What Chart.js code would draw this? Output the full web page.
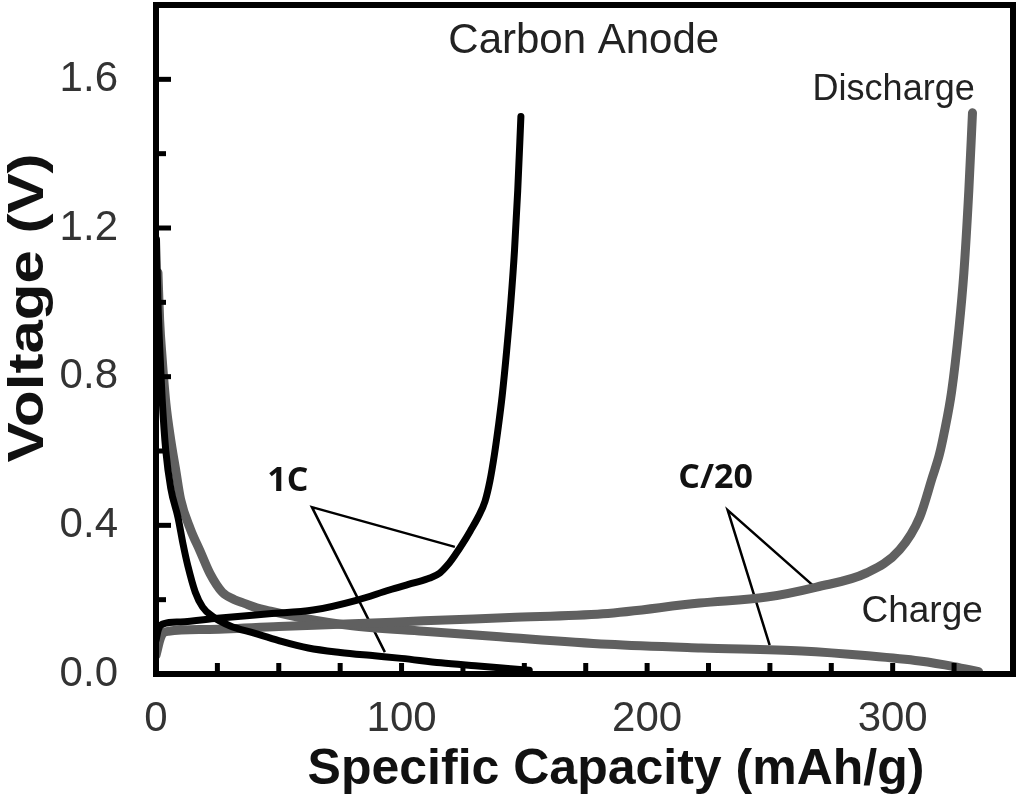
<!DOCTYPE html>
<html>
<head>
<meta charset="utf-8">
<title>Carbon Anode</title>
<script src="https://cdn.jsdelivr.net/npm/chart.js@4.4.1/dist/chart.umd.min.js"></script>
<style>
  html, body { margin: 0; padding: 0; background: #fff; }
  #wrap { width: 1017px; height: 800px; }
</style>
</head>
<body>
<div id="wrap"><canvas id="chart" width="1017" height="800"></canvas></div>
<script>
'use strict'

// 1C rate, black curves (capacity mAh/g, voltage V)
const CAP_1C_CHARGE = [0.2, 0.8, 1.5, 2.5, 4, 6, 9, 11, 13, 16, 19, 23, 30, 40, 50, 62, 75, 89, 100, 116, 130, 141, 152];
const V_1C_CHARGE = [1.17, 1.0, 0.88, 0.74, 0.6, 0.5, 0.42, 0.35, 0.29, 0.22, 0.18, 0.155, 0.13, 0.11, 0.09, 0.07, 0.058, 0.049, 0.042, 0.03, 0.022, 0.016, 0.01];
const CAP_1C_DISCHARGE = [0, 1, 3, 10, 25, 46, 64, 82, 95, 105, 111.5, 115.6, 119, 122, 125, 128, 131, 134, 136, 137.8, 139.5, 141, 142.8, 144.5, 146, 147.3, 148.6];
const V_1C_DISCHARGE = [0.09, 0.12, 0.135, 0.14, 0.15, 0.162, 0.172, 0.199, 0.226, 0.245, 0.258, 0.272, 0.295, 0.322, 0.352, 0.385, 0.42, 0.465, 0.52, 0.59, 0.67, 0.75, 0.87, 1.0, 1.14, 1.3, 1.5];

// C/20 rate, grey curves
const CAP_C20_CHARGE = [0.8, 1.5, 2.5, 4, 6, 8, 10, 14, 18, 22, 27, 32, 36, 41, 46, 60, 80, 109, 140, 184, 222, 263, 290, 311, 325, 335];
const V_C20_CHARGE = [1.08, 0.95, 0.85, 0.73, 0.63, 0.55, 0.47, 0.39, 0.33, 0.27, 0.22, 0.2, 0.19, 0.178, 0.17, 0.15, 0.13, 0.115, 0.1, 0.08, 0.07, 0.062, 0.049, 0.035, 0.02, 0.006];
const CAP_C20_DISCHARGE = [0, 2, 5, 20, 50, 80, 109, 144, 182, 221.4, 248.7, 269, 289.4, 302.8, 311, 316.2, 319, 321, 324, 327, 329, 331, 332.5];
const V_C20_DISCHARGE = [0.05, 0.1, 0.115, 0.12, 0.128, 0.135, 0.143, 0.152, 0.162, 0.191, 0.207, 0.234, 0.272, 0.334, 0.422, 0.53, 0.59, 0.65, 0.76, 0.93, 1.08, 1.3, 1.51];

// leader lines from the rate labels (end, apex, end)
const CAP_1C_LEADER = [121.7, 63.5, 93.2];
const V_1C_LEADER = [0.342, 0.449, 0.059];
const CAP_C20_LEADER = [267.4, 232.8, 249.9];
const V_C20_LEADER = [0.239, 0.441, 0.078];

// axes
const X_MIN = 0, X_MAX = 349, X_STEP = 100, X_MINOR = 25;
const Y_MIN = 0, Y_MAX = 1.8, Y_STEP = 0.4, Y_MINOR = 0.2;

// text labels placed in data coordinates
const LABELS = [
  {text: 'Carbon Anode', x: 174.2, y: 1.703, font: '42px "Liberation Sans", Arial, sans-serif', color: '#222'},
  {text: 'Discharge', x: 300.4, y: 1.571, font: '36px "Liberation Sans", Arial, sans-serif', color: '#222'},
  {text: 'Charge', x: 312, y: 0.167, font: '37px "Liberation Sans", Arial, sans-serif', color: '#222'},
  {text: '1C', x: 53.7, y: 0.519, font: 'bold 34px "Open Sans", sans-serif', color: '#111'},
  {text: 'C/20', x: 227.9, y: 0.527, font: 'bold 34px "Open Sans", sans-serif', color: '#111'}
];

const BLACK = '#000000';
const GREY = '#606060';

function toPoints(xs, ys) {
  return xs.map((x, i) => ({x: x, y: ys[i]}));
}

function curve(label, xs, ys, color, width) {
  return {
    label: label,
    data: toPoints(xs, ys),
    showLine: true,
    borderColor: color,
    backgroundColor: color,
    borderWidth: width,
    pointRadius: 0,
    cubicInterpolationMode: 'monotone',
    borderCapStyle: 'round',
    borderJoinStyle: 'round'
  };
}

function leader(label, xs, ys) {
  return {
    label: label,
    data: toPoints(xs, ys),
    showLine: true,
    borderColor: BLACK,
    borderWidth: 2.5,
    pointRadius: 0,
    tension: 0
  };
}

// frame, inward ticks, axis titles and text labels
const decorations = {
  id: 'decorations',
  afterDatasetsDraw(chart) {
    const {ctx, chartArea: a, scales} = chart;
    const xs = scales.x, ys = scales.y;
    ctx.save();
    ctx.strokeStyle = '#000';
    ctx.lineCap = 'butt';

    ctx.lineWidth = 5;
    for (let v = X_MIN + X_MINOR; v < X_MAX; v += X_MINOR) {
      const px = xs.getPixelForValue(v);
      ctx.beginPath();
      ctx.moveTo(px, a.bottom);
      ctx.lineTo(px, a.bottom - 11);
      ctx.stroke();
    }
    for (let v = Y_MIN + Y_MINOR; v < Y_MAX - 0.01; v += Y_MINOR) {
      const py = ys.getPixelForValue(v);
      const major = Math.abs(v / Y_STEP - Math.round(v / Y_STEP)) < 0.01;
      ctx.beginPath();
      ctx.moveTo(a.left, py);
      ctx.lineTo(a.left + (major ? 15 : 10), py);
      ctx.stroke();
    }

    ctx.lineWidth = 6;
    ctx.strokeRect(a.left, a.top, a.right - a.left, a.bottom - a.top);

    ctx.textAlign = 'center';
    ctx.textBaseline = 'middle';
    LABELS.forEach(l => {
      ctx.font = l.font;
      ctx.fillStyle = l.color;
      ctx.fillText(l.text, xs.getPixelForValue(l.x), ys.getPixelForValue(l.y));
    });

    ctx.fillStyle = '#111';
    ctx.font = 'bold 50px "Liberation Sans", Arial, sans-serif';
    ctx.fillText('Specific Capacity (mAh/g)', 616, 770);
    ctx.translate(29, 308);
    ctx.rotate(-Math.PI / 2);
    ctx.scale(1.2, 1);
    ctx.fillText('Voltage (V)', 0, 0);
    ctx.restore();
  }
};

const tickFont = {family: '"Liberation Sans Narrow", "Liberation Sans", Arial, sans-serif', size: 42};

new Chart(document.getElementById('chart'), {
  type: 'scatter',
  data: {
    datasets: [
      curve('1C discharge', CAP_1C_DISCHARGE, V_1C_DISCHARGE, BLACK, 7),
      curve('1C charge', CAP_1C_CHARGE, V_1C_CHARGE, BLACK, 7),
      curve('C/20 discharge', CAP_C20_DISCHARGE, V_C20_DISCHARGE, GREY, 9),
      curve('C/20 charge', CAP_C20_CHARGE, V_C20_CHARGE, GREY, 9),
      leader('1C leader', CAP_1C_LEADER, V_1C_LEADER),
      leader('C/20 leader', CAP_C20_LEADER, V_C20_LEADER)
    ]
  },
  options: {
    responsive: false,
    animation: false,
    layout: {padding: {top: 5, right: 4, left: 0, bottom: 0}},
    plugins: {legend: {display: false}, tooltip: {enabled: false}},
    scales: {
      x: {
        type: 'linear',
        min: X_MIN,
        max: X_MAX,
        grid: {display: false, drawTicks: false},
        border: {display: false},
        ticks: {stepSize: X_STEP, includeBounds: false, padding: 20, color: '#333', font: tickFont},
        afterFit(scale) {
          scale.height = 126;
          scale.paddingLeft = 0;
          scale.paddingRight = 0;
        }
      },
      y: {
        type: 'linear',
        min: Y_MIN,
        max: Y_MAX,
        grid: {display: false, drawTicks: false},
        border: {display: false},
        ticks: {
          stepSize: Y_STEP,
          includeBounds: false,
          padding: 38,
          color: '#333',
          font: tickFont,
          callback: v => v.toFixed(1)
        },
        afterFit(scale) {
          scale.width = 156;
          scale.paddingTop = 0;
          scale.paddingBottom = 0;
        }
      }
    }
  },
  plugins: [decorations]
});
</script>
</body>
</html>
